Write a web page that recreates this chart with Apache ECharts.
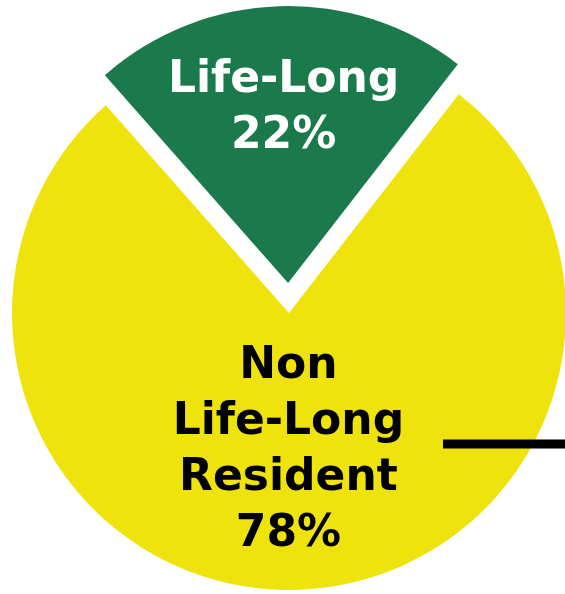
<!DOCTYPE html>
<html lang="en" style="height: 100%">
<head>
  <meta charset="UTF-8">
  <title>Life-Long Residents</title>
  <script src="https://cdn.jsdelivr.net/npm/echarts@6/dist/echarts.min.js"></script>
</head>
<body style="height: 100%; margin: 0; background: #fff">
  <div id="container" style="width: 565px; height: 594px"></div>
  <script>
    var categories = ['Life-Long', 'Non Life-Long Resident'];
    var labelLines = [['Life-Long'], ['Non', 'Life-Long', 'Resident']];
    var values = [22, 78];
    var colors = ['#1b7a4c', '#efe30e'];
    var textColors = ['#ffffff', '#000000'];

    var chart = echarts.init(document.getElementById('container'));

    var data = categories.map(function (name, i) {
      return {
        name: name,
        value: values[i],
        selected: i === 0,
        itemStyle: { color: colors[i] },
        label: { color: textColors[i] }
      };
    });

    var option = {
      animation: false,
      series: [
        {
          type: 'pie',
          center: [289, 313],
          radius: [0, 277],
          startAngle: 131.4,
          clockwise: true,
          selectedMode: 'single',
          selectedOffset: 30,
          emphasis: { disabled: true },
          data: data,
          label: {
            show: true,
            position: 'inside',
            fontFamily: 'DejaVu Sans',
            fontWeight: 'bold',
            fontSize: 44,
            lineHeight: 56,
            align: 'center',
            formatter: function (p) {
              return labelLines[p.dataIndex].concat([p.value + '%']).join('\n');
            }
          },
          labelLine: { show: false },
          labelLayout: function (p) {
            if (p.dataIndex === 0) return { dy: -33 };
            return { dx: -5, dy: -4 };
          }
        }
      ],
      graphic: [
        {
          type: 'line',
          shape: { x1: 443, y1: 444, x2: 565, y2: 444 },
          style: { stroke: '#000', lineWidth: 9 },
          z: 100
        }
      ]
    };
    chart.setOption(option);
  </script>
</body>
</html>
